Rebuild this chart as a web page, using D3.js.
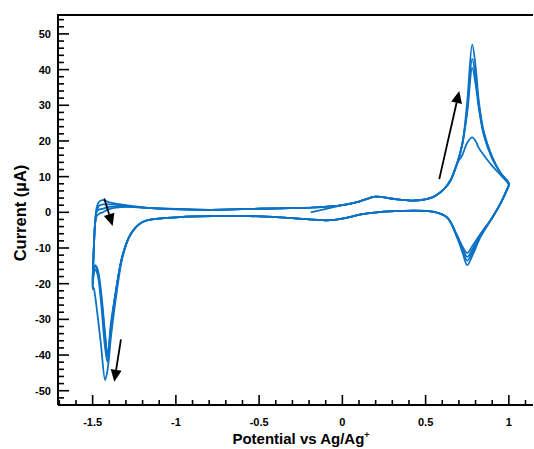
<!DOCTYPE html>
<html><head><meta charset="utf-8">
<script src="https://cdn.jsdelivr.net/npm/d3@7/dist/d3.min.js"></script>
<style>body{margin:0;background:#fff}svg{display:block}</style>
</head><body>
<svg id="c" width="534" height="449"></svg>
<script>
// Potential (V vs Ag/Ag+) sampled along one cycle: anodic -0.19 -> 1.0, cathodic 1.0 -> -1.5, anodic -1.5 -> -0.19
const potential = [-0.19,0.0,0.1,0.2,0.3,0.42,0.54,0.61,0.65,0.69,0.72,0.75,0.78,0.80,0.82,0.85,0.9,0.95,1.0,
  0.99,0.95,0.90,0.83,0.78,0.75,0.72,0.69,0.63,0.55,0.35,0.15,-0.07,-0.3,-0.6,-1.0,-1.2,-1.27,-1.32,-1.36,-1.39,-1.41,-1.425,-1.45,-1.47,-1.485,-1.495,-1.5,
  -1.497,-1.492,-1.485,-1.475,-1.46,-1.44,-1.4,-1.3,-1.15,-0.8,-0.5,-0.19];
// Current (µA) for each cycle
const cycle1 = [0,2.0,3.0,4.4,3.8,3.3,4.2,6.5,9,13.8,16,19.5,21,20,18,16,13,10.5,7.6,
  6.5,2.5,-1.5,-6.0,-9.5,-11.4,-9.5,-6.5,-1.5,0.1,0.4,-0.3,-2.2,-1.6,-1.0,-1.4,-2.7,-6,-12,-22,-31,-40,-34,-22,-16,-14.8,-16.5,-19,
  -15,-9,-3,1.5,3.0,3.4,2.8,2.0,1.2,0.7,1.0,1.3];
const cycle2 = [1.3,2.0,3.0,4.4,3.8,3.3,4.2,6.5,9,13.8,19,28,40.5,36,29,21.5,15,11,8,
  6.5,2.5,-1.5,-6.3,-10.5,-12.5,-10,-6.8,-1.5,0.1,0.4,-0.3,-2.2,-1.6,-1.0,-1.4,-2.7,-6,-12,-22,-32,-40.5,-35,-23,-16.5,-15,-17,-20,
  -15,-9,-3,0.5,1.9,2.2,2.2,1.8,1.2,0.7,1.0,1.3];
const cycle3 = [1.3,2.0,3.0,4.4,3.8,3.3,4.2,6.5,9,13.8,19,29,43,38,30,22,15.5,11,8,
  6.5,2.5,-1.5,-6.6,-11.3,-13.5,-10.5,-7,-1.5,0.1,0.4,-0.3,-2.2,-1.6,-1.0,-1.4,-2.7,-6,-12,-22,-33,-42,-38,-25,-17.5,-16,-18,-21,
  -15,-9,-3,0.3,0.8,1.0,1.5,1.6,1.2,0.7,1.0,1.3];
const cycle4 = [1.3,2.0,3.0,4.4,3.8,3.3,4.2,6.5,9,13.8,19,31,47,41,31,22.5,15.5,11,8,
  6.5,2.5,-1.5,-6.9,-12.2,-14.8,-11,-7.2,-1.5,0.1,0.4,-0.3,-2.2,-1.6,-1.0,-1.4,-2.7,-6,-12.5,-24,-35,-44,-47,-37,-29,-23.5,-21,-21.5,
  -15,-9,-3,-1.0,-0.4,0.0,0.9,1.5,1.2,0.7,1.0,1.3];
const cycles = [cycle1, cycle2, cycle3, cycle4];

const xTickLabels = [-1.5,-1,-0.5,0,0.5,1];
const yTickLabels = [-50,-40,-30,-20,-10,0,10,20,30,40,50];
// annotation arrows in data units [E0, I0, E1, I1]
const arrowsData = [[-1.43,3.9,-1.38,-3.8],[-1.33,-35.6,-1.37,-47.5],[0.582,9.3,0.702,34]];

const svg = d3.select('#c');
const L=58, R=533, T=15, B=405;
const x = d3.scaleLinear().domain([-1.708,1.145]).range([L,R]);
const y = d3.scaleLinear().domain([55.3,-54]).range([T,B]);
const font = "'Liberation Sans', Arial, sans-serif";

// curves
const line = d3.line().x(d=>x(d[0])).y(d=>y(d[1])).curve(d3.curveCatmullRom.alpha(0.5));
cycles.forEach(c=>{
  const pts = potential.map((e,i)=>[e,c[i]]);
  svg.append('path').attr('d',line(pts)).attr('fill','none')
    .attr('stroke','#0b72c6').attr('stroke-width',1.8).attr('stroke-linejoin','round');
});

// frame
svg.append('path').attr('d',`M${L},${B}H${R}M${L},${B}V${T}H${R}`)
  .attr('fill','none').attr('stroke','#000').attr('stroke-width',2);

// x ticks (inward)
const xMinor = d3.range(-17,12).map(d=>d/10);
svg.selectAll('.xt').data(xMinor).enter().append('line')
  .attr('x1',d=>x(d)).attr('x2',d=>x(d)).attr('y1',B)
  .attr('y2',d=>B-(Math.abs(Math.round(d*10))%5===0?10:5))
  .attr('stroke','#000').attr('stroke-width',1.6);
svg.selectAll('.xl').data(xTickLabels).enter().append('text')
  .attr('x',d=>x(d)).attr('y',426).attr('text-anchor','middle')
  .attr('font-family',font).attr('font-weight','bold').attr('font-size',11)
  .text(d=>d);
// y ticks
const yMinor = d3.range(-27,28).map(d=>d*2);
svg.selectAll('.yt').data(yMinor).enter().append('line')
  .attr('y1',d=>y(d)).attr('y2',d=>y(d)).attr('x1',L)
  .attr('x2',d=>L+(d%10===0?11:6))
  .attr('stroke','#000').attr('stroke-width',1.6);
svg.selectAll('.yl').data(yTickLabels).enter().append('text')
  .attr('x',51).attr('y',d=>y(d)+4).attr('text-anchor','end')
  .attr('font-family',font).attr('font-weight','bold').attr('font-size',11)
  .text(d=>d);

// axis titles
const xt = svg.append('text').attr('x',301).attr('y',444).attr('text-anchor','middle')
  .attr('font-family',font).attr('font-weight','bold').attr('font-size',15)
  .text('Potential vs Ag/Ag');
xt.append('tspan').attr('font-size',9).attr('dy',-6).text('+');
svg.append('text').attr('transform','translate(26,213) rotate(-90)').attr('text-anchor','middle')
  .attr('font-family',font).attr('font-weight','bold').attr('font-size',16.5)
  .text('Current (µA)');

// arrows
arrowsData.forEach(a=>{
  const x0=x(a[0]),y0=y(a[1]),x1=x(a[2]),y1=y(a[3]);
  const ang=Math.atan2(y1-y0,x1-x0), hl=12, hw=5.5;
  const bx=x1-hl*Math.cos(ang), by=y1-hl*Math.sin(ang);
  svg.append('line').attr('x1',x0).attr('y1',y0).attr('x2',bx).attr('y2',by)
    .attr('stroke','#000').attr('stroke-width',1.8);
  const px=-Math.sin(ang)*hw, py=Math.cos(ang)*hw;
  svg.append('path').attr('d',`M${x1},${y1}L${bx+px},${by+py}L${bx-px},${by-py}Z`).attr('fill','#000');
});
</script>
</body></html>
